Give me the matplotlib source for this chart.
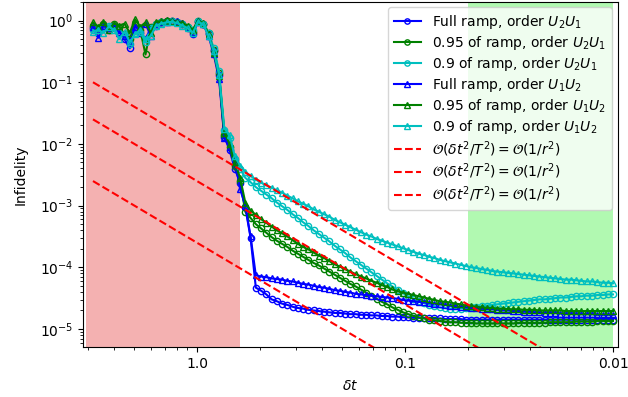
import numpy as np
import matplotlib
matplotlib.use("Agg")
import matplotlib.pyplot as plt
from matplotlib.ticker import FixedLocator, FixedFormatter, LogLocator, NullFormatter

# time step grid (delta t), 100 samples from 10^0.5 down to 0.01
dt = np.logspace(0.5, -2, 100)

# log10(infidelity)
full_u2u1 = [-0.12,-0.2,-0.1,-0.15,-0.08,-0.18,-0.3,-0.45,-0.15,-0.2,-0.3,-0.12,-0.08,-0.02,-0.01,0.0,-0.02,-0.05,-0.12,-0.22,-0.02,-0.05,-0.22,-0.5,-0.88,
             -1.88,-2.1,-2.4,-2.63,-3.03,-3.52,
             -4.33,-4.38,-4.44,-4.52,-4.55,-4.59,-4.61,-4.64,-4.66,-4.67,-4.69,-4.7,-4.71,-4.72,-4.73,-4.74,-4.74,-4.75,-4.76,-4.76,-4.77,
             -4.77,-4.78,-4.78,-4.79,-4.79,-4.8,-4.8,
             -4.81,-4.81,-4.82,-4.82,-4.82,-4.83,-4.83,-4.83,-4.84,-4.84,-4.84,-4.84,
             -4.85,-4.85,-4.85,-4.85,-4.85,-4.85,-4.85,-4.85,-4.85,-4.85,-4.85,-4.85,-4.85,-4.85,-4.85,
             -4.85,-4.85,-4.85,-4.85,-4.85,-4.85,-4.85,-4.85,-4.85,-4.85,-4.85,-4.85,-4.85,-4.85]
r95_u2u1 = [-0.08,-0.15,-0.05,-0.12,-0.06,-0.1,-0.22,-0.3,-0.05,-0.15,-0.55,-0.1,-0.05,-0.02,0.0,-0.01,-0.02,-0.06,-0.1,-0.18,-0.01,-0.05,-0.2,-0.48,-0.85,
            -1.86,-2.05,-2.35,-2.6,-3.1,-3.2,
            -3.3,-3.37,-3.44,-3.51,-3.57,-3.62,-3.67,-3.73,-3.78,-3.83,
            -3.88,-3.93,-3.97,-4.02,-4.07,-4.12,-4.17,-4.22,-4.27,-4.31,
            -4.36,-4.41,-4.46,-4.51,-4.56,-4.6,-4.65,-4.69,-4.73,-4.76,
            -4.79,-4.81,-4.83,-4.85,-4.86,-4.87,-4.88,-4.89,-4.89,-4.9,
            -4.9,-4.9,-4.91,-4.91,-4.91,-4.91,-4.91,-4.91,-4.91,-4.91,
            -4.9,-4.9,-4.9,-4.9,-4.9,-4.9,-4.89,-4.89,-4.89,-4.89,
            -4.89,-4.88,-4.88,-4.88,-4.88,-4.87,-4.87,-4.87,-4.87]
r90_u2u1 = [-0.15,-0.12,-0.1,-0.08,-0.12,-0.2,-0.25,-0.38,-0.2,-0.18,-0.35,-0.12,-0.05,-0.03,-0.02,-0.01,-0.03,-0.06,-0.1,-0.15,-0.01,-0.05,-0.2,-0.45,-0.82,
            -1.78,-1.9,-2.25,-2.4,-2.55,-2.62,
            -2.7,-2.76,-2.82,-2.88,-2.95,-3.01,-3.07,-3.14,-3.2,-3.27,
            -3.33,-3.4,-3.46,-3.52,-3.58,-3.65,-3.71,-3.77,-3.84,-3.9,
            -3.96,-4.02,-4.08,-4.14,-4.2,-4.26,-4.31,-4.37,-4.42,-4.47,
            -4.51,-4.55,-4.58,-4.61,-4.63,-4.65,-4.66,-4.67,-4.67,-4.67,
            -4.66,-4.65,-4.64,-4.63,-4.62,-4.61,-4.6,-4.59,-4.58,-4.57,
            -4.56,-4.55,-4.54,-4.53,-4.52,-4.52,-4.51,-4.5,-4.49,-4.49,
            -4.48,-4.47,-4.47,-4.46,-4.46,-4.45,-4.45,-4.44,-4.44]
full_u1u2 = [-0.1,-0.28,-0.08,-0.12,-0.1,-0.2,-0.25,-0.35,-0.1,-0.15,-0.05,-0.25,-0.05,-0.03,-0.02,0.0,-0.01,-0.04,-0.1,-0.18,0.0,-0.06,-0.25,-0.55,-0.95,
             -1.9,-2.05,-2.25,-2.73,-3.0,-3.5,
             -4.13,-4.15,-4.16,-4.18,-4.19,-4.2,-4.22,-4.23,-4.25,-4.27,
             -4.28,-4.3,-4.32,-4.33,-4.35,-4.37,-4.38,-4.4,-4.41,-4.43,
             -4.44,-4.45,-4.46,-4.47,-4.48,-4.49,-4.5,-4.51,-4.53,-4.54,
             -4.55,-4.56,-4.57,-4.58,-4.59,-4.6,-4.61,-4.62,-4.63,-4.64,
             -4.65,-4.66,-4.66,-4.67,-4.68,-4.68,-4.69,-4.7,-4.7,-4.71,
             -4.71,-4.72,-4.72,-4.73,-4.73,-4.74,-4.74,-4.74,-4.75,-4.75,
             -4.75,-4.76,-4.76,-4.76,-4.76,-4.77,-4.77,-4.77,-4.77]
r95_u1u2 = [-0.03,-0.1,-0.02,-0.15,-0.05,-0.08,-0.05,-0.2,0.02,-0.1,-0.03,-0.2,-0.02,-0.01,0.01,0.0,-0.02,-0.04,-0.08,-0.15,0.0,-0.04,-0.22,-0.52,-0.9,
            -1.82,-2.0,-2.3,-2.55,-2.95,-3.08,
            -3.15,-3.22,-3.28,-3.34,-3.4,-3.45,-3.5,-3.56,-3.62,-3.67,
            -3.71,-3.76,-3.81,-3.85,-3.9,-3.95,-3.99,-4.03,-4.07,-4.11,
            -4.15,-4.18,-4.22,-4.25,-4.29,-4.32,-4.36,-4.39,-4.41,-4.43,
            -4.45,-4.47,-4.49,-4.51,-4.53,-4.55,-4.56,-4.57,-4.59,-4.6,
            -4.62,-4.63,-4.64,-4.65,-4.66,-4.66,-4.67,-4.67,-4.68,-4.68,
            -4.68,-4.69,-4.69,-4.69,-4.7,-4.7,-4.7,-4.7,-4.7,-4.71,
            -4.71,-4.71,-4.71,-4.71,-4.71,-4.71,-4.71,-4.71,-4.71]
r90_u1u2 = [-0.18,-0.15,-0.2,-0.1,-0.15,-0.3,-0.18,-0.35,-0.22,-0.15,-0.3,-0.25,-0.08,-0.05,-0.03,-0.02,-0.04,-0.08,-0.12,-0.2,-0.02,-0.06,-0.25,-0.5,-0.88,
            -1.75,-1.85,-2.2,-2.35,-2.45,-2.52,
            -2.58,-2.63,-2.67,-2.71,-2.75,-2.79,-2.84,-2.88,-2.93,-2.97,
            -3.01,-3.06,-3.1,-3.14,-3.18,-3.23,-3.27,-3.31,-3.35,-3.39,
            -3.43,-3.47,-3.5,-3.54,-3.57,-3.6,-3.63,-3.66,-3.69,-3.72,
            -3.75,-3.78,-3.8,-3.83,-3.85,-3.88,-3.9,-3.92,-3.94,-3.96,
            -3.98,-4.0,-4.01,-4.03,-4.04,-4.06,-4.07,-4.08,-4.09,-4.1,
            -4.11,-4.12,-4.13,-4.14,-4.15,-4.16,-4.17,-4.18,-4.19,-4.2,
            -4.2,-4.21,-4.22,-4.23,-4.23,-4.24,-4.25,-4.25,-4.26]

labels = ["Full ramp, order $U_2U_1$", "0.95 of ramp, order $U_2U_1$", "0.9 of ramp, order $U_2U_1$",
          "Full ramp, order $U_1U_2$", "0.95 of ramp, order $U_1U_2$", "0.9 of ramp, order $U_1U_2$"]
series = [full_u2u1, r95_u2u1, r90_u2u1, full_u1u2, r95_u1u2, r90_u1u2]
colors = ["b", "g", "c", "b", "g", "c"]
markers = ["o", "o", "o", "^", "^", "^"]

# reference O(dt^2) lines: prefactors
ref_coeffs = [1e-2, 2.5e-3, 2.5e-4]
ref_label = r"$\mathcal{O}(\delta t^2/T^2) = \mathcal{O}(1/r^2)$"

# shaded regions in delta t
red_span = (3.4, 0.62)
green_span = (0.05, 0.01)

fig = plt.figure(figsize=(6.28, 3.97), dpi=100)
ax = fig.add_axes([83/628, 1 - 347/397, 535/628, 345/397])

r = 1.0 / dt
ax.axvspan(1/red_span[0], 1/red_span[1], color="#f4b1b1", lw=0, zorder=0)
ax.axvspan(1/green_span[0], 1/green_span[1], color="#b1f9b1", lw=0, zorder=0)

for s, c, m, lab in zip(series, colors, markers, labels):
    assert len(s) == len(dt), (lab, len(s))
    ax.plot(r, 10.0**np.array(s), color=c, marker=m, markersize=4.5, mfc="none",
            mew=1.0, lw=1.5, label=lab)
for k in ref_coeffs:
    ax.plot(r, k * dt**2, "r--", lw=1.5, label=ref_label)

ax.set_xscale("log")
ax.set_yscale("log")
ax.set_xlim(10**(-0.548), 10**(2.024))
ax.set_ylim(5.1e-6, 2.0)
ax.xaxis.set_major_locator(FixedLocator([1, 10, 100]))
ax.xaxis.set_major_formatter(FixedFormatter(["1.0", "0.1", "0.01"]))
ax.xaxis.set_minor_locator(LogLocator(base=10, subs=np.arange(2, 10)))
ax.xaxis.set_minor_formatter(NullFormatter())
ax.yaxis.set_minor_locator(LogLocator(base=10, subs=np.arange(2, 10), numticks=20))
ax.yaxis.set_minor_formatter(NullFormatter())
ax.set_xlabel(r"$\delta t$", labelpad=6)
ax.set_ylabel("Infidelity", labelpad=9)
ax.legend(loc="upper right", fontsize=10, labelspacing=0.22,
          bbox_to_anchor=(0.997, 0.997), borderaxespad=0.3, markerscale=0.85)

fig.savefig("out.png", dpi=100)
